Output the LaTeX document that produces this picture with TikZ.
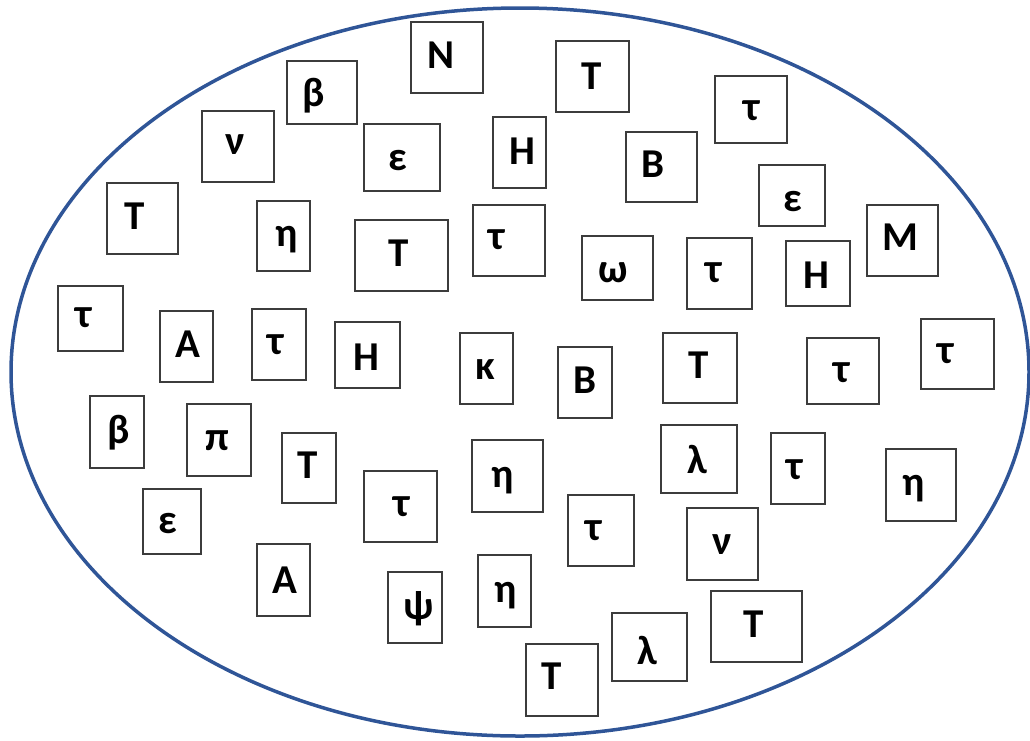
\documentclass[tikz,border=0pt]{standalone}
\usepackage{fontspec}
\setmainfont{Carlito}
\usetikzlibrary{shapes.geometric}
\definecolor{ellblue}{RGB}{47,85,151}
\definecolor{boxgray}{RGB}{60,60,60}
\tikzset{
  gbx/.style={draw=boxgray, line width=1.5pt, rectangle, inner sep=0pt, outer sep=0pt, fill=white},
  glyph/.style={inner sep=0pt, outer sep=0pt, text=black, font=\fontsize{41}{41}\selectfont\bfseries},
  oval/.style={draw=ellblue, line width=3.5pt, ellipse, inner sep=0pt, outer sep=0pt}
}
% #1 name, #2 x1, #3 y1, #4 x2, #5 y2, #6 glyph x, #7 glyph y, #8 text
\newcommand\gbox[8]{%
  \node[gbx, minimum width={(#4-#2)*1pt}, minimum height={(#5-#3)*1pt}] (#1) at ({(#2+#4)/2},{(#3+#5)/2}) {};
  \node[glyph] (#1-txt) at (#6,#7) {#8};
}
\begin{document}
\begin{tikzpicture}[x=1pt,y=-1pt]
\useasboundingbox (0,0) rectangle (1030,740);
\node[oval, minimum width=1018pt, minimum height=728pt] (set) at (520,372) {};
\gbox{n1}{411}{22}{483}{93}{441}{55}{N}
\gbox{t1}{556}{41}{629}{112}{592}{76}{T}
\gbox{beta1}{287}{61}{357}{124}{314}{96}{β}
\gbox{nu1}{202}{111}{274}{182}{235}{145}{ν}
\gbox{eps1}{364}{124}{440}{191}{398}{161}{ε}
\gbox{h1}{493}{117}{546}{188}{522}{151}{H}
\gbox{b1}{626}{132}{697}{202}{653}{164}{B}
\gbox{tau1}{715}{76}{787}{143}{752}{111}{τ}
\gbox{eps2}{759}{165}{825}{226}{793}{202}{ε}
\gbox{m1}{867}{205}{938}{276}{900}{237}{M}
\gbox{t2}{107}{183}{178}{254}{135}{216}{T}
\gbox{eta1}{257}{201}{310}{271}{287}{240}{η}
\gbox{t3}{355}{220}{448}{291}{399}{253}{T}
\gbox{tau2}{473}{205}{545}{276}{497}{240}{τ}
\gbox{omega}{582}{236}{653}{300}{613}{273}{ω}
\gbox{tau3}{687}{238}{752}{309}{714}{273}{τ}
\gbox{h2}{786}{241}{850}{306}{816}{275}{H}
\gbox{tau4}{58}{286}{123}{351}{84}{318}{τ}
\gbox{a1}{160}{311}{213}{382}{188}{344}{A}
\gbox{tau5}{252}{309}{306}{380}{276}{345}{τ}
\gbox{h3}{335}{322}{400}{388}{366}{357}{H}
\gbox{kappa}{460}{333}{513}{404}{485}{370}{κ}
\gbox{b2}{558}{347}{612}{418}{585}{380}{B}
\gbox{t4}{663}{333}{737}{403}{699}{365}{T}
\gbox{tau6}{807}{338}{879}{404}{842}{373}{τ}
\gbox{tau7}{921}{319}{994}{389}{946}{354}{τ}
\gbox{beta2}{90}{396}{144}{468}{119}{433}{β}
\gbox{pi}{187}{404}{251}{476}{217}{441}{π}
\gbox{t5}{282}{433}{336}{503}{308}{465}{T}
\gbox{eps3}{143}{489}{201}{554}{168}{524}{ε}
\gbox{a2}{257}{544}{310}{616}{285}{580}{A}
\gbox{tau8}{364}{471}{437}{542}{402}{507}{τ}
\gbox{eta2}{472}{440}{543}{512}{503}{481}{η}
\gbox{tau9}{568}{495}{634}{566}{594}{531}{τ}
\gbox{psi}{388}{572}{442}{643}{419}{609}{ψ}
\gbox{eta3}{478}{555}{531}{627}{506}{596}{η}
\gbox{t6}{526}{644}{598}{716}{552}{676}{T}
\gbox{lambda1}{612}{613}{687}{681}{647}{650}{λ}
\gbox{t7}{711}{591}{802}{662}{754}{624}{T}
\gbox{lambda2}{661}{425}{737}{493}{697}{459}{λ}
\gbox{tau10}{771}{433}{825}{504}{795}{470}{τ}
\gbox{eta4}{886}{449}{956}{521}{914}{489}{η}
\gbox{nu2}{687}{508}{758}{580}{722}{545}{ν}
\end{tikzpicture}
\end{document}
